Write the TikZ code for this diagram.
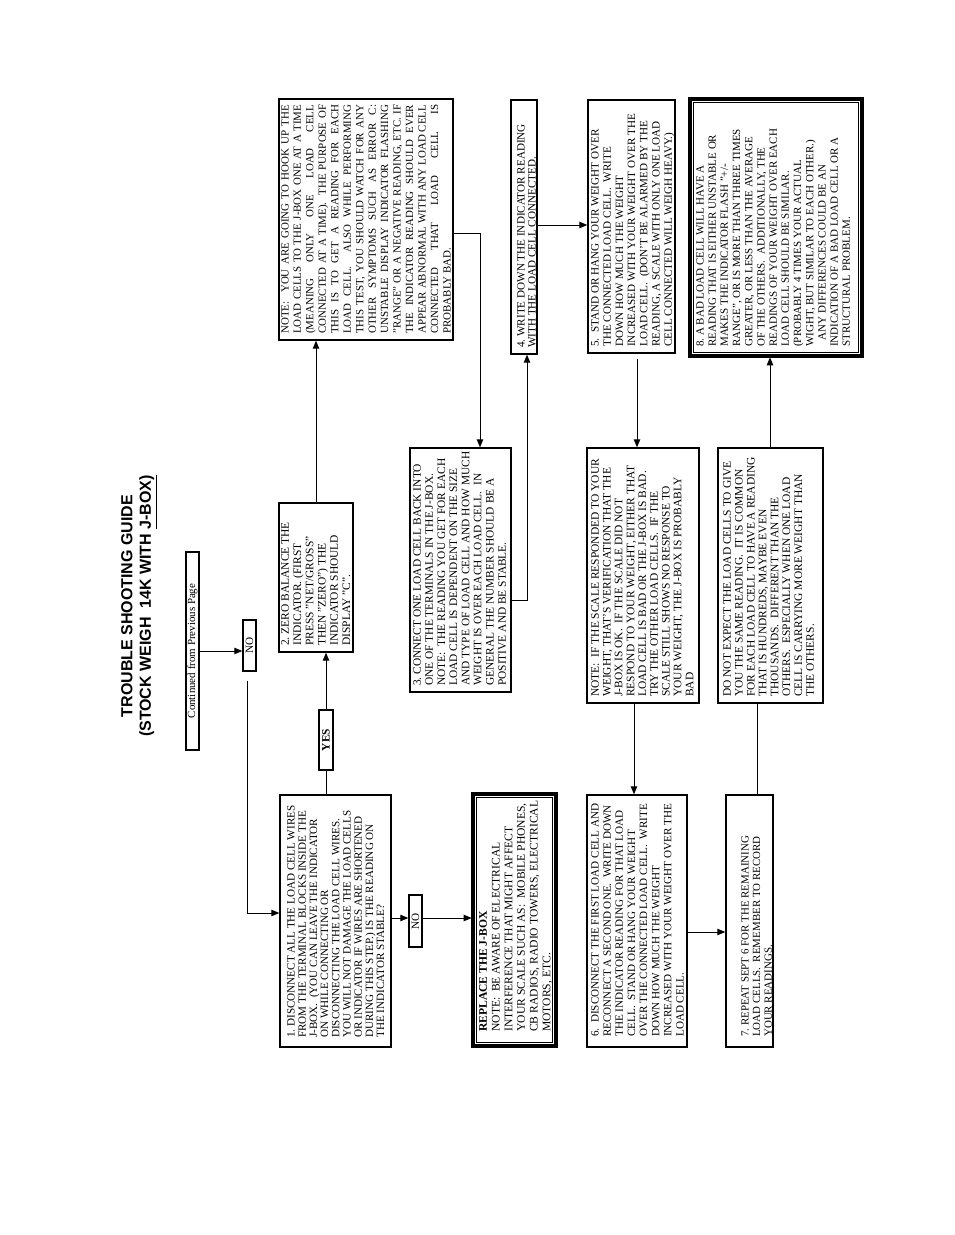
\documentclass[tikz,border=0pt]{standalone}
\usepackage{fontspec}
\setmainfont{Liberation Serif}
\newfontfamily\titlefont{Liberation Sans}
\usetikzlibrary{arrows.meta,fit}
\newcommand\fs[2]{\fontsize{#1}{#2}\selectfont}
\newlength\jw
\setlength\jw{171.75pt}
\newcommand\jline[1]{\leavevmode\hbox to \jw{\spaceskip=0pt \xspaceskip=0pt #1}}
\newcommand\dsp{\ \ }
\frenchspacing
\begin{document}
\begin{tikzpicture}[x=0.75pt,y=-0.75pt,
  box/.style={draw, line width=1pt, inner sep=0pt},
  frm/.style={inner sep=0pt},
  natsp/.style={execute at begin node={\spaceskip=0pt \xspaceskip=0pt }},
  txt/.style={natsp, rotate=90, anchor=north west, inner sep=0pt, align=left, text width=250pt},
  lbl/.style={natsp, rotate=90, inner sep=0pt},
  conn/.style={line width=0.7pt},
  arr/.style={conn, -{Triangle[length=6pt,width=4.8pt]}}]
\fill[white] (0,0) rectangle (954,1235);
\useasboundingbox (0,0) rectangle (954,1235);

% title
\node[lbl, align=center, font={\titlefont\fs{12}{13.9}\bfseries}] (title) at (139,606)
  {TROUBLE SHOOTING GUIDE\\(STOCK WEIGH\ \ 14K WITH \underline{J-BOX)}};

% small label boxes
\node[box, fit={(186,552) (199,750)}] (cont) {};
\node[lbl, font=\fs{8.2}{9}] at (cont.center) {Continued from Previous Page};
\node[box, fit={(243,620) (256,671)}] (no1) {};
\node[lbl, font=\fs{8.4}{9}] at (no1.center) {NO};
\node[box, fit={(319,710) (333,770)}] (yes) {};
\node[lbl, font={\fs{8.5}{9}\bfseries}] at (yes.center) {YES};
\node[box, fit={(409,895) (422,947)}] (no2) {};
\node[lbl, font=\fs{8.4}{9}] at (no2.center) {NO};

% main boxes
\node[box, fit={(280,795) (391,1047)}] (b1) {};
\node[txt, font=\fs{8.35}{8.4}] at (287,1038) {1. DISCONNECT ALL THE LOAD CELL WIRES\\
FROM THE TERMINAL BLOCKS INSIDE THE\\
J-BOX.\dsp(YOU CAN LEAVE THE INDICATOR\\
ON WHILE CONNECTING OR\\
DISCONNECTING THE LOAD CELL WIRES.\\
YOU WILL NOT DAMAGE THE LOAD CELLS\\
OR INDICATOR IF WIRES ARE SHORTENED\\
DURING THIS STEP.) IS THE READING ON\\
THE INDICATOR STABLE?};

\node[frm, fit={(472,793) (557,1047)}] (rep) {};
\draw[line width=3pt] ([shift={(1.5,-1.5)}]rep.south west) rectangle ([shift={(-1.5,1.5)}]rep.north east);
\draw[line width=1pt] ([shift={(4.5,-4.5)}]rep.south west) rectangle ([shift={(-4.5,4.5)}]rep.north east);
\node[txt, font=\fs{8.7}{9.5}] at (479,1032) {\textbf{REPLACE THE J-BOX}\\
NOTE:\dsp BE AWARE OF ELECTRICAL\\
INTERFERENCE THAT MIGHT AFFECT\\
YOUR SCALE SUCH AS:\dsp MOBILE PHONES,\\
CB RADIOS, RADIO TOWERS, ELECTRICAL\\
MOTORS, ETC.};

\node[box, fit={(279,503) (353,652)}] (b2) {};
\node[txt, font=\fs{8.6}{9.2}] at (281,646) {2. ZERO BALANCE THE\\
INDICATOR. (FIRST\\
PRESS "NET/GROSS"\\
THEN "ZERO") THE\\
INDICATOR SHOULD\\
DISPLAY "C".};

\node[box, fit={(279,99) (453,340)}] (note) {};
\node[txt, text width=171.75pt, font=\fs{8.2}{9.35}] at (281,334) {%
\jline{NOTE:\ \ YOU ARE GOING TO HOOK UP THE}\\
\jline{LOAD CELLS TO THE J-BOX ONE AT A TIME}\\
\jline{(MEANING ONLY ONE LOAD CELL}\\
\jline{CONNECTED AT A TIME).\ \ THE PURPOSE OF}\\
\jline{THIS IS TO GET A READING FOR EACH}\\
\jline{LOAD CELL.\ \ ALSO WHILE PERFORMING}\\
\jline{THIS TEST, YOU SHOULD WATCH FOR ANY}\\
\jline{OTHER SYMPTOMS SUCH AS ERROR C:}\\
\jline{UNSTABLE DISPLAY INDICATOR FLASHING}\\
\jline{"RANGE" OR A NEGATIVE READING, ETC. IF}\\
\jline{THE INDICATOR READING SHOULD EVER}\\
\jline{APPEAR ABNORMAL WITH ANY LOAD CELL}\\
\jline{CONNECTED THAT LOAD CELL IS}\\
PROBABLY BAD.};

\node[box, fit={(410,448) (511,692)}] (b3) {};
\node[txt, font=\fs{8.55}{9.1}] at (413,686) {3. CONNECT ONE LOAD CELL BACK INTO\\
ONE OF THE TERMINALS IN THE J-BOX.\\
NOTE:\dsp THE READING YOU GET FOR EACH\\
LOAD CELL IS DEPENDENT ON THE SIZE\\
AND TYPE OF LOAD CELL AND HOW MUCH\\
WEIGHT IS OVER EACH LOAD CELL.\dsp IN\\
GENERAL THE NUMBER SHOULD BE A\\
POSITIVE AND BE STABLE.};

\node[box, fit={(511,100) (537,354)}] (b4) {};
\node[txt, font=\fs{8.35}{8.25}] at (517,348) {4. WRITE DOWN THE INDICATOR READING\\
WITH THE LOAD CELL CONNECTED.};

\node[box, fit={(588,100) (675,353)}] (b5) {};
\node[txt, font=\fs{8.35}{9.15}] at (591,347) {5.\dsp STAND OR HANG YOUR WEIGHT OVER\\
THE CONNECTED LOAD CELL.\dsp WRITE\\
DOWN HOW MUCH THE WEIGHT\\
INCREASED WITH YOUR WEIGHT OVER THE\\
LOAD CELL.\dsp (DON'T BE ALARMED BY THE\\
READING, A SCALE WITH ONLY ONE LOAD\\
CELL CONNECTED WILL WEIGH HEAVY.)};

\node[box, fit={(587,448) (699,703)}] (mn) {};
\node[txt, font=\fs{8.6}{8.85}] at (591,697) {NOTE:\dsp IF THE SCALE RESPONDED TO YOUR\\
WEIGHT, THAT'S VERIFICATION THAT THE\\
J-BOX IS OK.\dsp IF THE SCALE DID NOT\\
RESPOND TO YOUR WEIGHT, EITHER THAT\\
LOAD CELL IS BAD OR THE J-BOX IS BAD.\\
TRY THE OTHER LOAD CELLS.\dsp IF THE\\
SCALE STILL SHOWS NO RESPONSE TO\\
YOUR WEIGHT, THE J-BOX IS PROBABLY\\
BAD};

\node[box, fit={(587,795) (687,1047)}] (b6) {};
\node[txt, font=\fs{8.35}{9.1}] at (591,1037) {6.\dsp DISCONNECT THE FIRST LOAD CELL AND\\
RECONNECT A SECOND ONE.\dsp WRITE DOWN\\
THE INDICATOR READING FOR THAT LOAD\\
CELL.\dsp STAND OR HANG YOUR WEIGHT\\
OVER THE CONNECTED LOAD CELL.\dsp WRITE\\
DOWN HOW MUCH THE WEIGHT\\
INCREASED WITH YOUR WEIGHT OVER THE\\
LOAD CELL.};

\node[box, fit={(726,795) (773,1047)}] (b7) {};
\node[txt, font=\fs{8.2}{8.8}] at (741,1037) {7. REPEAT SEPT 6 FOR THE REMAINING\\
LOAD CELLS.\dsp REMEMBER TO RECORD\\
YOUR READINGS.};

\node[box, fit={(718,448) (823,703)}] (dne) {};
\node[txt, font=\fs{8.6}{8.9}] at (723,697) {DO NOT EXPECT THE LOAD CELLS TO GIVE\\
YOU THE SAME READING.\dsp IT IS COMMON\\
FOR EACH LOAD CELL TO HAVE A READING\\
THAT IS HUNDREDS, MAYBE EVEN\\
THOUSANDS.\dsp DIFFERENT THAN THE\\
OTHERS.\dsp ESPECIALLY WHEN ONE LOAD\\
CELL IS CARRYING MORE WEIGHT THAN\\
THE OTHERS.};

\node[frm, fit={(689,98) (863,357)}] (b8) {};
\draw[line width=3pt] ([shift={(1.5,-1.5)}]b8.south west) rectangle ([shift={(-1.5,1.5)}]b8.north east);
\draw[line width=1pt] ([shift={(4.5,-4.5)}]b8.south west) rectangle ([shift={(-4.5,4.5)}]b8.north east);
\node[txt, font=\fs{8.25}{9.15}] at (696,347) {8. A BAD LOAD CELL WILL HAVE A\\
READING THAT IS EITHER UNSTABLE OR\\
MAKES THE INDICATOR FLASH "+/-\\
RANGE", OR IS MORE THAN THREE TIMES\\
GREATER, OR LESS THAN THE AVERAGE\\
OF THE OTHERS.\dsp ADDITIONALLY, THE\\
READINGS OF YOUR WEIGHT OVER EACH\\
LOAD CELL SHOULD BE SIMILAR.\\
(PROBABLY 4 TIMES YOUR ACTUAL\\
WIGHT, BUT SIMILAR TO EACH OTHER.)\\
\hspace*{5pt}ANY DIFFERENCES COULD BE AN\\
INDICATION OF A BAD LOAD CELL OR A\\
STRUCTURAL PROBLEM.};

% connectors
\draw[arr] (cont.east) -- (cont.east -| no1.west);
\draw[arr] ([shift={(-2,9)}]no1.south) |- (b1.west |- 0,913);
\draw[conn] (b1.north -| yes.south) -- (yes.south);
\draw[arr] (yes.north) -- (yes.north |- b2.south);
\draw[arr] (b1.east |- 0,918) -- (no2.west |- 0,918);
\draw[arr] (no2.east |- 0,918) -- (rep.west |- 0,918);
\draw[arr] (b2.north) -- (b2.north |- note.south);
\draw[arr] (note.east |- 0,233) -| (b3.north -| 480,0);
\draw[arr] (b3.east |- 0,600) -| (b4.south -| 527,0);
\draw[arr] (b4.east |- 0,225) -- (b5.west |- 0,225);
\draw[arr] ([yshift=-3.75pt]b5.south -| 637,0) -- (mn.north -| 637,0);
\draw[arr] (mn.south -| 634,0) -- (b6.north -| 634,0);
\draw[arr] (b6.east |- 0,932) -- (b7.west |- 0,932);
\draw[conn] (b7.north -| 757,0) -- (dne.south -| 757,0);
\draw[arr] (dne.north -| 770,0) -- (b8.south -| 770,0);
\end{tikzpicture}
\end{document}
